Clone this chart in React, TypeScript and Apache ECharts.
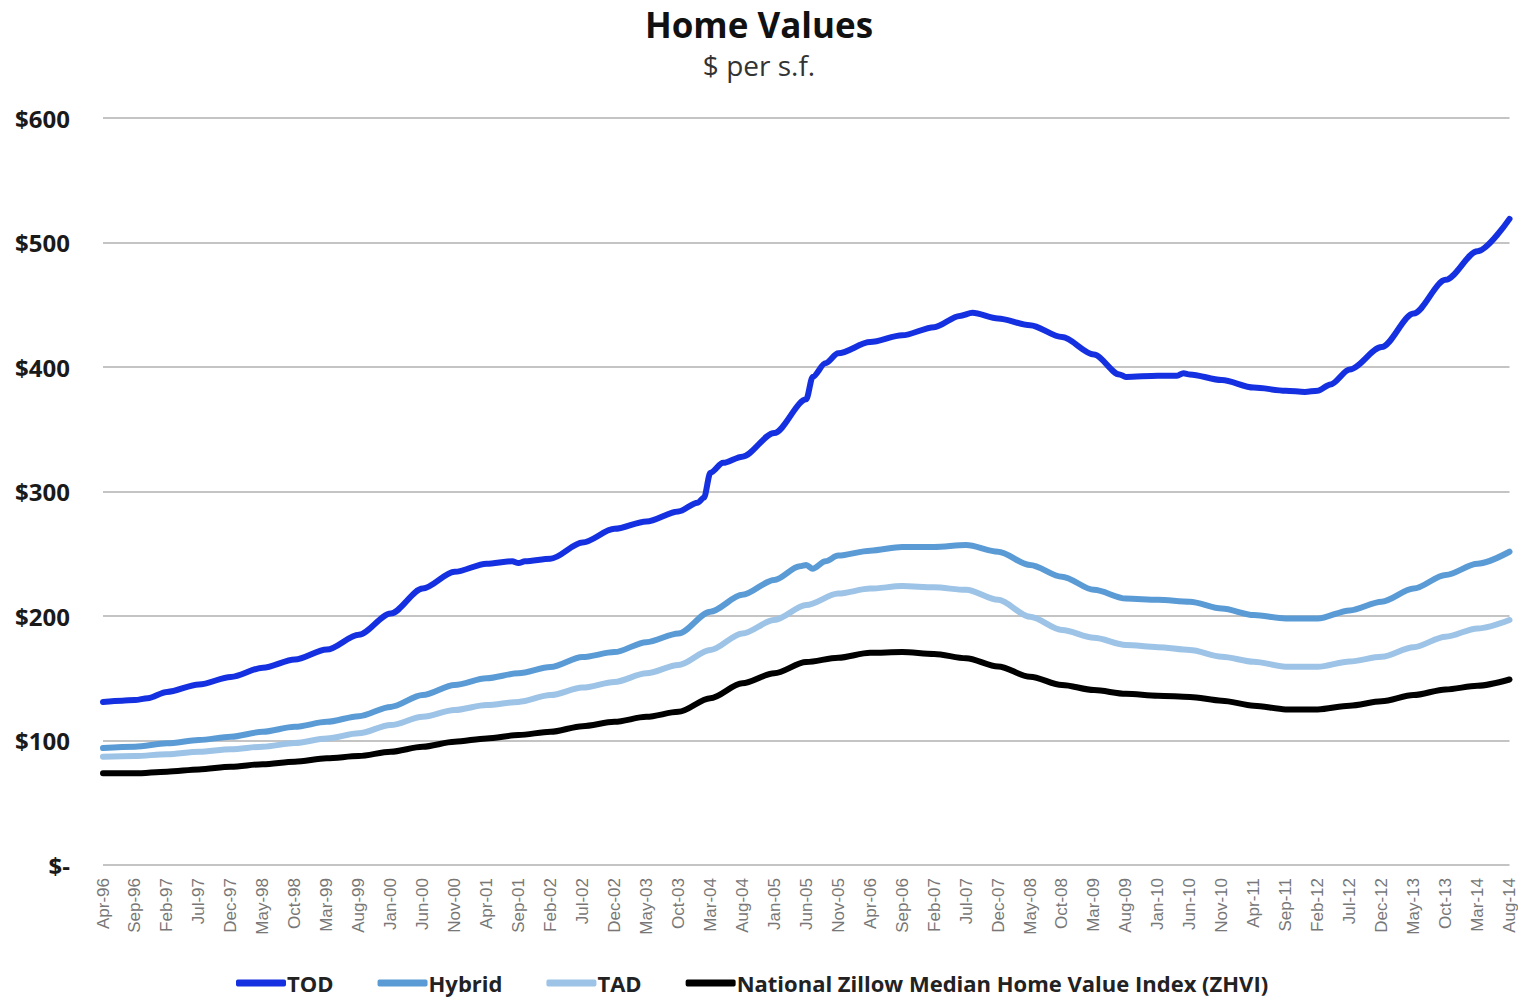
import React, { useEffect, useRef } from "react";
import * as echarts from "echarts";

// Tick labels every 5 months (month index 0 = Apr-96, 220 = Aug-14)
const tickLabels = [
  "Apr-96", "Sep-96", "Feb-97", "Jul-97", "Dec-97", "May-98", "Oct-98", "Mar-99", "Aug-99",
  "Jan-00", "Jun-00", "Nov-00", "Apr-01", "Sep-01", "Feb-02", "Jul-02", "Dec-02", "May-03",
  "Oct-03", "Mar-04", "Aug-04", "Jan-05", "Jun-05", "Nov-05", "Apr-06", "Sep-06", "Feb-07",
  "Jul-07", "Dec-07", "May-08", "Oct-08", "Mar-09", "Aug-09", "Jan-10", "Jun-10", "Nov-10",
  "Apr-11", "Sep-11", "Feb-12", "Jul-12", "Dec-12", "May-13", "Oct-13", "Mar-14", "Aug-14",
];

const seriesNames = ["TOD", "Hybrid", "TAD", "National Zillow Median Home Value Index (ZHVI)"];

// [month index, $ per s.f.]
const tod = [
  [0, 131], [3, 132], [5, 132.5], [7, 134], [10, 139], [15, 145], [20, 151], [25, 158.5],
  [30, 165], [35, 173], [40, 185], [45, 202], [50, 222], [55, 235.5], [60, 242], [64, 244],
  [65, 242.5], [66, 244], [70, 246], [75, 259], [80, 270], [85, 276], [90, 284], [93, 291],
  [94, 295], [95, 315], [97, 323], [100, 328], [105, 347], [110, 374], [111, 392], [113, 403],
  [115, 411], [120, 420], [125, 425.5], [130, 432], [134, 441], [136, 443.5], [140, 439],
  [145, 433.5], [150, 424], [155, 410], [159, 394], [160, 392], [165, 393], [168, 393],
  [169, 395], [170, 394], [175, 389.5], [180, 383.5], [185, 381], [188, 380], [190, 381],
  [192, 386], [195, 398], [200, 416], [205, 443], [210, 470], [215, 493], [220, 519],
];

const hybrid = [
  [0, 94], [5, 95], [10, 97.7], [15, 100.4], [20, 103], [25, 107], [30, 111], [35, 115],
  [40, 119.5], [45, 127], [50, 136.5], [55, 144.6], [60, 150], [65, 154], [70, 159], [75, 167],
  [80, 171], [85, 179], [90, 186], [95, 203.5], [100, 217], [105, 229], [109, 240], [110, 241],
  [111, 238], [113, 244], [115, 248.5], [120, 252.5], [125, 255.5], [130, 255.5], [135, 257],
  [140, 251.6], [145, 241], [150, 231.6], [155, 221], [160, 214], [165, 213], [170, 211.5],
  [175, 206], [180, 200.8], [185, 198], [190, 198], [195, 204.5], [200, 211.5], [205, 222],
  [210, 233], [215, 242], [220, 251.6],
];

const tad = [
  [0, 87], [5, 87.5], [10, 89], [15, 91], [20, 93], [25, 95], [30, 98], [35, 101.7],
  [40, 105.8], [45, 112.4], [50, 119], [55, 124.5], [60, 128.5], [65, 131], [70, 136.5],
  [75, 142.5], [80, 147], [85, 154], [90, 160.6], [95, 172.7], [100, 186], [105, 196.8],
  [110, 208.8], [115, 218], [120, 222], [125, 224], [130, 223], [135, 221], [140, 213],
  [145, 199.4], [150, 188.8], [155, 182.5], [160, 176.7], [165, 175], [170, 172.7],
  [175, 167.3], [180, 163.3], [185, 159.3], [190, 159.3], [195, 163.5], [200, 167.3],
  [205, 175], [210, 183.4], [215, 190], [220, 196.8],
];

const zhvi = [
  [0, 73.6], [5, 73.6], [10, 75], [15, 76.8], [20, 79], [25, 81], [30, 83], [35, 85.7],
  [40, 87.5], [45, 91], [50, 95], [55, 99], [60, 101.7], [65, 104.4], [70, 107], [75, 111.5],
  [80, 115], [85, 119], [90, 123], [95, 134], [100, 146], [105, 154], [110, 163], [115, 166.5],
  [120, 170.5], [125, 171], [130, 169.5], [135, 166], [140, 159.5], [145, 151.2], [150, 144.6],
  [155, 140.5], [160, 137.5], [165, 136], [170, 135], [175, 132], [180, 128], [185, 125],
  [190, 125], [195, 128], [200, 131.5], [205, 136.5], [210, 141], [215, 144], [220, 149],
];

const colors = ["#1530e0", "#5b9bd5", "#9dc3e6", "#000000"];
const FONT = "'Open Sans', sans-serif";

export default function App() {
  const ref = useRef<HTMLDivElement>(null);
  useEffect(() => {
    if (!ref.current) return;
    const chart = echarts.init(ref.current, undefined, { renderer: "svg" });
    const datasets = [tod, hybrid, tad, zhvi];
    chart.setOption({
      animation: false,
      backgroundColor: "#ffffff",
      title: [
        {
          text: "Home Values",
          left: "center",
          top: 2,
          textStyle: { fontFamily: FONT, fontWeight: "bold", fontSize: 35, color: "#111" },
        },
        {
          text: "$ per s.f.",
          left: "center",
          top: 46,
          textStyle: { fontFamily: FONT, fontWeight: "normal", fontSize: 28, color: "#333" },
        },
      ],
      legend: {
        data: seriesNames,
        left: 236,
        top: 971,
        padding: 0,
        icon: "roundRect",
        itemWidth: 50,
        itemHeight: 7,
        itemGap: 44,
        textStyle: {
          fontFamily: FONT,
          fontWeight: "bold",
          fontSize: 22,
          lineHeight: 24,
          color: "#222",
          padding: [0, 0, 0, -4],
        },
      },
      grid: { left: 103, right: 8, top: 118, bottom: 136, containLabel: false },
      xAxis: {
        type: "value",
        min: 0,
        max: 220,
        interval: 5,
        axisLine: { show: false },
        axisTick: { show: false },
        splitLine: { show: false },
        axisLabel: {
          rotate: 90,
          margin: 13,
          fontFamily: "'Liberation Sans', Arial, sans-serif",
          fontSize: 17,
          color: "#777",
          showMinLabel: true,
          showMaxLabel: true,
          formatter: (v: number) => tickLabels[Math.round(v / 5)] ?? "",
        },
      },
      yAxis: {
        type: "value",
        min: 0,
        max: 600,
        interval: 100,
        axisLine: { show: false },
        axisTick: { show: false },
        splitLine: { lineStyle: { color: "#c4c4c4", width: 2 } },
        axisLabel: {
          margin: 33,
          fontFamily: FONT,
          fontWeight: "bold",
          fontSize: 24,
          color: "#1a1a1a",
          formatter: (v: number) => (v === 0 ? "$-" : "$" + v),
        },
      },
      series: seriesNames.map((name, i) => ({
        name,
        type: "line",
        data: datasets[i],
        showSymbol: false,
        symbol: "none",
        smooth: 0.3,
        smoothMonotone: "x",
        color: colors[i],
        lineStyle: { width: 6, color: colors[i], cap: "round", join: "round" },
        z: 10 - i,
      })),
    });
    return () => chart.dispose();
  }, []);
  return (
    <div
      ref={ref}
      style={{ position: "fixed", left: 0, top: 0, width: 1518, height: 1001 }}
    />
  );
}
